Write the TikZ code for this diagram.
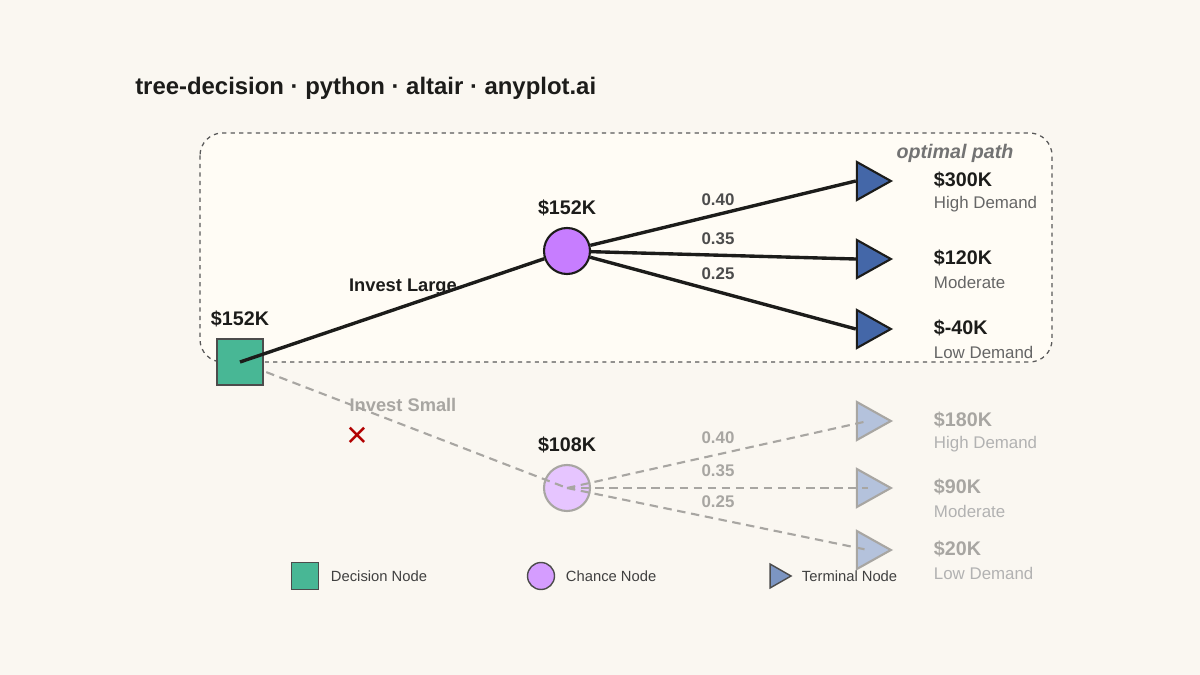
\documentclass[tikz,border=0pt]{standalone}
\usepackage{fontspec}
\setmainfont{Liberation Sans}
\usetikzlibrary{shapes.geometric,positioning}
\definecolor{bgc}{HTML}{FAF7F1}
\definecolor{boxc}{HTML}{FFFCF5}
\definecolor{decc}{HTML}{48B795}
\definecolor{chc}{HTML}{C77DFF}
\definecolor{termc}{HTML}{4467A8}
\definecolor{inkc}{HTML}{1C1C1A}
\definecolor{fadec}{HTML}{A8A6A2}
\tikzset{
  decision/.style = {draw = black!70, fill = decc, line width = 1.5pt, minimum size = 46*0.025cm, inner sep = 0pt},
  chance/.style = {circle, draw = inkc, fill = chc, line width = 1.5pt, minimum size = 46*0.025cm, inner sep = 0pt},
  terminal/.style = {isosceles triangle, isosceles triangle stretches, draw = inkc, fill = termc, line width = 1.5pt, minimum height = 34*0.025cm, minimum width = 38*0.025cm, inner sep = 0pt},
  best/.style = {draw = inkc, line width = 2.4pt},
  worse/.style = {draw = fadec, line width = 1.5pt, dashed, dash pattern = on 6pt off 4pt},
  value/.style = {font = \fontsize{14}{16}\selectfont\bfseries, anchor = west},
  outcome/.style = {font = \fontsize{12}{14}\selectfont, anchor = west},
  prob/.style = {font = \fontsize{12}{14}\selectfont\bfseries, text = black!70}
}
\begin{document}
\begin{tikzpicture}[x = 0.025cm, y = -0.025cm]
\fill[bgc] (0,0) rectangle (1200,675);
\useasboundingbox (0,0) rectangle (1200,675);
\node[anchor = west, inner sep = 0pt, font = \fontsize{17}{20}\selectfont\bfseries, text = inkc] (title) at (135,88) {tree-decision · python · altair · anyplot.ai};
\draw[black!65, dashed, line width = 0.9pt, rounded corners = 16pt, fill = boxc] (200,133) rectangle (1052,362);
\node[font = \fontsize{14}{16}\selectfont\bfseries\itshape, text = black!55] (optimal) at (955,153) {optimal path};
% faded branch
\node[chance, fill = chc!45, draw = fadec] (c2) at (567,488) {};
\node[terminal, fill = termc!40, draw = fadec] (t4) at (868,421) {};
\node[terminal, fill = termc!40, draw = fadec] (t5) at (868,488) {};
\node[terminal, fill = termc!40, draw = fadec] (t6) at (868,550) {};
\coordinate (d0) at (240,362);
\draw[worse] (d0) -- (c2.center);
\foreach \t in {t4,t5,t6}
  \draw[worse] (c2.center) -- (\t.center);
% optimal branch
\node[chance] (c1) at (567,251) {};
\node[terminal] (t1) at (868,181) {};
\node[terminal] (t2) at (868,259) {};
\node[terminal] (t3) at (868,329) {};
\node[decision] (d) at (240,362) {};
\draw[best] (d0) -- (c1);
\foreach \t in {t1,t2,t3}
  \draw[best] (c1) -- (\t.west);
% labels
\node[font = \fontsize{14}{16}\selectfont\bfseries, text = inkc] (vd) at (240,319) {\$152K};
\node[font = \fontsize{14}{16}\selectfont\bfseries, text = inkc] (vc1) at (567,208) {\$152K};
\node[font = \fontsize{14}{16}\selectfont\bfseries, text = inkc] (vc2) at (567,445) {\$108K};
\node[font = \fontsize{13}{15}\selectfont\bfseries, text = inkc] (large) at (403,287) {Invest Large};
\node[font = \fontsize{13}{15}\selectfont\bfseries, text = fadec] (small) at (403,405) {Invest Small};
\node[font = \fontsize{26}{26}\selectfont, text = red!70!black] (cross) at (357,437) {×};
\node[prob] (p1) at (718,200) {0.40};
\node[prob] (p2) at (718,239) {0.35};
\node[prob] (p3) at (718,274) {0.25};
\node[prob, text = fadec] (p4) at (718,438) {0.40};
\node[prob, text = fadec] (p5) at (718,471) {0.35};
\node[prob, text = fadec] (p6) at (718,502) {0.25};
\node[value, text = inkc] (v1) at (929,180) {\$300K};
\node[outcome, text = black!60] (o1) at (929,204) {High Demand};
\node[value, text = inkc] (v2) at (929,258) {\$120K};
\node[outcome, text = black!60] (o2) at (929,282) {Moderate};
\node[value, text = inkc] (v3) at (929,328) {\$-40K};
\node[outcome, text = black!60] (o3) at (929,352) {Low Demand};
\node[value, text = fadec] (v4) at (929,420) {\$180K};
\node[outcome, text = black!30] (o4) at (929,444) {High Demand};
\node[value, text = fadec] (v5) at (929,487) {\$90K};
\node[outcome, text = black!30] (o5) at (929,511) {Moderate};
\node[value, text = fadec] (v6) at (929,549) {\$20K};
\node[outcome, text = black!30] (o6) at (929,573) {Low Demand};
% legend
\node[decision, minimum size = 27*0.025cm, line width = 1pt] (ld) at (305,576) {};
\node[anchor = west, font = \fontsize{10.5}{12}\selectfont, text = black!75] (ldt) at (326,576) {Decision Node};
\node[chance, minimum size = 27*0.025cm, line width = 1pt, fill = chc!75, draw = black!70] (lc) at (541,576) {};
\node[anchor = west, font = \fontsize{10.5}{12}\selectfont, text = black!75] (lct) at (561,576) {Chance Node};
\node[terminal, minimum height = 21*0.025cm, minimum width = 24*0.025cm, line width = 1pt, fill = termc!70, draw = black!70] (lt) at (777,576) {};
\node[anchor = west, font = \fontsize{10.5}{12}\selectfont, text = black!75] (ltt) at (797,576) {Terminal Node};
\end{tikzpicture}
\end{document}
